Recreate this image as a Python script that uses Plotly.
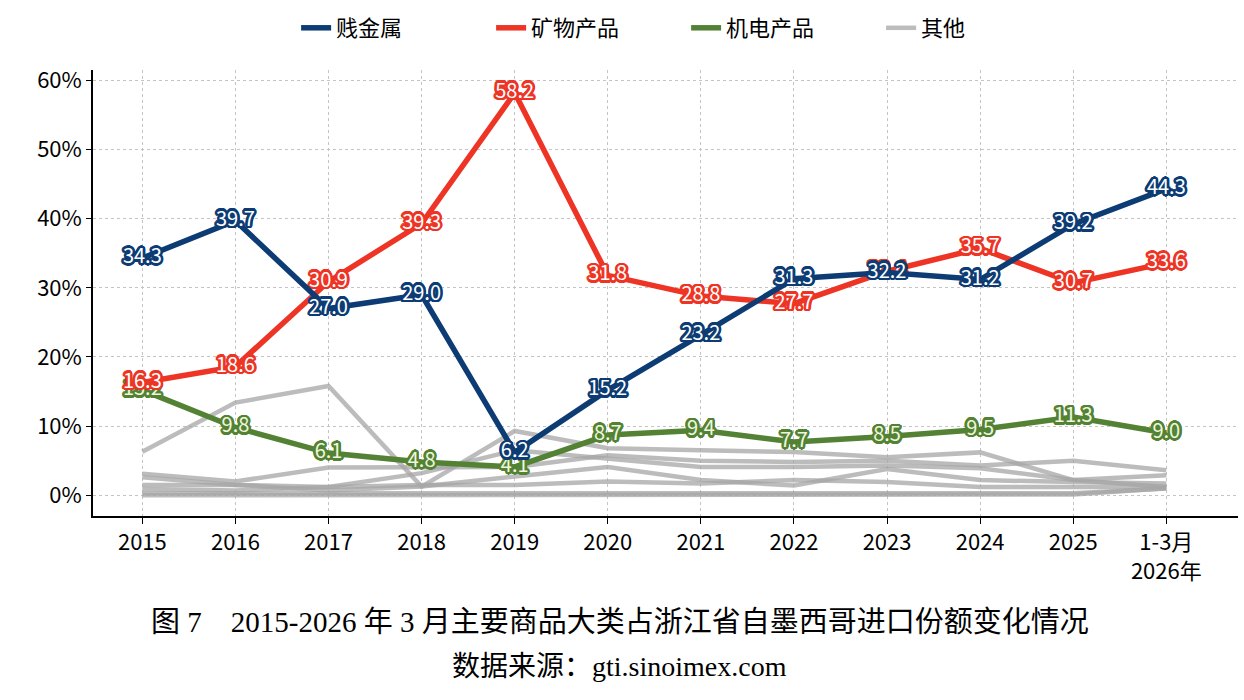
import math
import plotly.graph_objects as go

categories = ["2015", "2016", "2017", "2018", "2019", "2020", "2021", "2022", "2023", "2024", "2025", "1-3月<br>2026年"]

base_metals = [34.3, 39.7, 27.0, 29.0, 6.2, 15.2, 23.2, 31.3, 32.2, 31.2, 39.2, 44.3]
mineral = [16.3, 18.6, 30.9, 39.3, 58.2, 31.8, 28.8, 27.7, 32.4, 35.7, 30.7, 33.6]
electro = [15.2, 9.8, 6.1, 4.8, 4.1, 8.7, 9.4, 7.7, 8.5, 9.5, 11.3, 9.0]

other_1 = [6.3, 13.4, 15.8, 1.25, 9.3, 6.8, 6.5, 6.25, 5.5, 6.2, 2.2, 1.2]
other_2 = [3.1, 2.0, 4.0, 4.0, 4.1, 5.8, 5.0, 4.8, 5.0, 4.3, 5.0, 3.6]
other_3 = [2.6, 1.5, 1.2, 3.2, 6.5, 5.3, 4.1, 4.1, 4.3, 3.9, 2.2, 2.9]
other_4 = [1.5, 1.5, 0.7, 1.25, 2.7, 4.1, 2.2, 1.4, 3.8, 2.2, 1.9, 1.7]
other_5 = [0.9, 0.7, 1.2, 1.5, 1.5, 2.0, 1.7, 2.2, 1.9, 1.2, 1.2, 1.2]
other_6 = [0.3, 0.3, 0.3, 0.3, 0.3, 0.3, 0.3, 0.3, 0.3, 0.3, 0.3, 0.96]
other_7 = [0.0, 0.0, 0.0, 0.0, 0.0, 0.0, 0.0, 0.0, 0.0, 0.0, 0.1, 1.0]
others = [other_1, other_2, other_3, other_4, other_5, other_6, other_7]

BLUE = "#0d3c74"
RED = "#ee3424"
GREEN = "#548235"
GRAY = "rgba(165,165,165,0.75)"
FONT = "Noto Sans CJK SC, Noto Sans, sans-serif"


def outline(c, r=2.6, n=16):
    parts = []
    for k in range(n):
        a = 2 * math.pi * k / n
        parts.append(f"{r * math.cos(a):.2f}px {r * math.sin(a):.2f}px 0.6px {c}")
    return ", ".join(parts)


fig = go.Figure()
for i, s in enumerate(others):
    fig.add_trace(go.Scatter(
        x=categories, y=s, mode="lines", name="其他", legendgroup="other",
        showlegend=(i == 0), legendrank=4,
        line=dict(color=GRAY, width=4.5), hoverinfo="skip"))


def main_trace(name, vals, color, txtcolor, rank):
    return go.Scatter(
        x=categories, y=vals, mode="lines+text", name=name, legendrank=rank,
        line=dict(color=color, width=5.5),
        text=[f"{v:.1f}" for v in vals], textposition="middle center",
        textfont=dict(family=FONT, size=20, color=txtcolor, shadow=outline(color)),
    )


fig.add_trace(main_trace("机电产品", electro, GREEN, "#eef7dc", 3))
fig.add_trace(main_trace("矿物产品", mineral, RED, "white", 2))
fig.add_trace(main_trace("贱金属", base_metals, BLUE, "white", 1))

fig.update_layout(
    width=1244, height=700,
    paper_bgcolor="white", plot_bgcolor="white",
    margin=dict(l=93, r=6, t=70, b=184),
    font=dict(family=FONT, size=22, color="black"),
    legend=dict(orientation="h", x=0.518, xanchor="center", y=0.99, yanchor="top",
                yref="container", font=dict(size=22), traceorder="normal",
                entrywidth=150),
    showlegend=True,
)

fig.update_xaxes(
    type="category", range=[-0.53, 11.77],
    showline=True, linecolor="black", linewidth=1.5,
    ticks="outside", ticklen=6, tickcolor="black",
    showgrid=True, gridcolor="#c4c4c4", griddash="dot", gridwidth=1,
    tickfont=dict(size=22), zeroline=False,
)
fig.update_yaxes(
    range=[-3, 61.5], tickvals=[0, 10, 20, 30, 40, 50, 60],
    ticktext=["0%", "10%", "20%", "30%", "40%", "50%", "60%"],
    showline=True, linecolor="black", linewidth=1.5,
    ticks="outside", ticklen=5, tickcolor="black",
    showgrid=True, gridcolor="#c4c4c4", griddash="dot", gridwidth=1,
    tickfont=dict(size=22), zeroline=False,
)

SERIF = "Liberation Serif, Times New Roman, Noto Sans CJK SC, serif"
fig.add_annotation(text="图 7    2015-2026 年 3 月主要商品大类占浙江省自墨西哥进口份额变化情况",
                   xref="paper", yref="paper", x=0.46, y=0, yshift=-106,
                   xanchor="center", yanchor="middle", showarrow=False,
                   font=dict(family=SERIF, size=29, color="black"))
fig.add_annotation(text="数据来源：gti.sinoimex.com",
                   xref="paper", yref="paper", x=0.46, y=0, yshift=-150,
                   xanchor="center", yanchor="middle", showarrow=False,
                   font=dict(family=SERIF, size=28, color="black"))

fig.write_html("out.html")
